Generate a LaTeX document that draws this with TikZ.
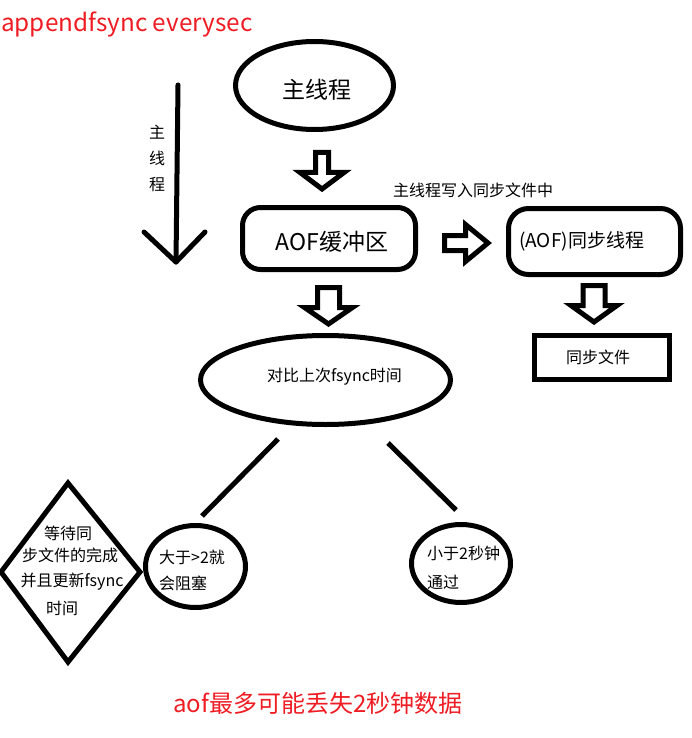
\documentclass[tikz,border=0pt]{standalone}
\usepackage{fontspec}
\newfontfamily\cjk{Noto Sans CJK SC}
\usetikzlibrary{shapes.geometric}
\definecolor{redtxt}{RGB}{240,28,36}
\tikzset{
  tx/.style={font=\cjk\fontsize{#1}{#1}\selectfont, inner sep=0pt, text=black},
  thick5/.style={line width=5pt},
  oval/.style={ellipse, draw, line width=5pt, inner sep=0pt},
  rbox/.style={rectangle, draw, line width=5pt, rounded corners=18pt, inner sep=0pt},
  sbox/.style={rectangle, draw, line width=5pt, inner sep=0pt},
  pics/hdown/.style n args={4}{code={
    \draw[line width=5pt, line join=miter] (-#1,0) -- (#1,0) -- (#1,#3) -- (#2,#3) -- (0,#3+#4) -- (-#2,#3) -- (-#1,#3) -- cycle;}},
  pics/hright/.style n args={4}{code={
    \draw[line width=5pt, line join=miter] (0,-#1) -- (#3,-#1) -- (#3,-#2) -- (#3+#4,0) -- (#3,#2) -- (#3,#1) -- (0,#1) -- cycle;}},
}
\begin{document}
\begin{tikzpicture}[x=1pt,y=-1pt]
\useasboundingbox[fill=white] (0,0) rectangle (692,738);

% title
\node[tx=24.3, text=redtxt, anchor=base west] (title) at (1,32) {appendfsync everysec};

% main thread ellipse
\node[oval, minimum width=158pt, minimum height=88pt] (main) at (314.5,85.5) {};
\node[tx=23] (maintxt) at (317,90) {主线程};

% left vertical arrow
\coordinate (vtop) at (178,85);
\coordinate (vtip) at (176,262);
\coordinate (vl) at (144,232);
\coordinate (vr) at (205,232);
\draw[thick5, line cap=round, line join=round] (vtop) -- (vtip);
\draw[thick5, line cap=round, line join=round] (vl) -- (vtip) -- (vr);
\node[tx=16] (v1) at (157,132) {主};
\node[tx=16] (v2) at (157,158) {线};
\node[tx=16] (v3) at (157,185) {程};

% hollow arrow main -> buf
\pic at (322,152.5) {hdown={6.5}{22}{20}{16.5}};

% AOF buffer
\node[rbox, minimum width=173pt, minimum height=62pt] (buf) at (329,238.5) {};
\node[tx=23] (buftxt) at (332,242) {AOF缓冲区};

% label
\node[tx=16, anchor=west] (lab) at (393,190) {主线程写入同步文件中};

% hollow arrow buf -> sync
\pic at (444.5,243) {hright={7.5}{18.5}{21}{22.5}};

% sync thread
\node[rbox, rounded corners=20pt, minimum width=172pt, minimum height=66pt] (sync) at (594.5,241.5) {};
\node[tx=19, anchor=west] (synctxt) at (519,241) {(AOF)同步线程};

% hollow arrow sync -> file
\pic at (594,285.5) {hdown={11}{23}{20}{16.5}};

% file box
\node[sbox, minimum width=135pt, minimum height=44pt] (file) at (602,357.5) {};
\node[tx=16] (filetxt) at (598,357) {同步文件};

% hollow arrow buf -> compare
\pic at (328.5,287.5) {hdown={11}{24}{20}{16.5}};

% compare ellipse
\node[oval, minimum width=250pt, minimum height=89pt] (cmp) at (325.5,380) {};
\node[tx=16] (cmptxt) at (334.5,377) {对比上次fsync时间};

% branches
\coordinate (bl1) at (278,439);
\coordinate (bl2) at (202,516);
\coordinate (br1) at (388,443);
\coordinate (br2) at (456,510);
\draw[thick5] (bl1) -- (bl2);
\draw[thick5] (br1) -- (br2);

% diamond
\coordinate (dt) at (68,483);
\coordinate (dr) at (140,572);
\coordinate (db) at (68,662);
\coordinate (dl) at (1,572);
\draw[thick5, line join=miter] (dt) -- (dr) -- (db) -- (dl) -- cycle;
\node[tx=16] (d1) at (68,533) {等待同};
\node[tx=16] (d2) at (70,555) {步文件的完成};
\node[tx=16] (d3) at (72,582) {并且更新fsync};
\node[tx=16] (d4) at (62,608) {时间};

% left circle
\node[oval, minimum width=100pt, minimum height=82pt] (lc) at (195.5,566.5) {};
\node[tx=16, anchor=west] (lc1) at (159,557) {大于>2就};
\node[tx=16, anchor=west] (lc2) at (159,583) {会阻塞};

% right circle
\node[oval, minimum width=99pt, minimum height=78pt] (rc) at (461,563.5) {};
\node[tx=16, anchor=west] (rc1) at (427,553) {小于2秒钟};
\node[tx=16, anchor=west] (rc2) at (427,582) {通过};

% bottom note
\node[tx=24, text=redtxt, anchor=base west] (note) at (173,712) {aof最多可能丢失2秒钟数据};
\end{tikzpicture}
\end{document}
